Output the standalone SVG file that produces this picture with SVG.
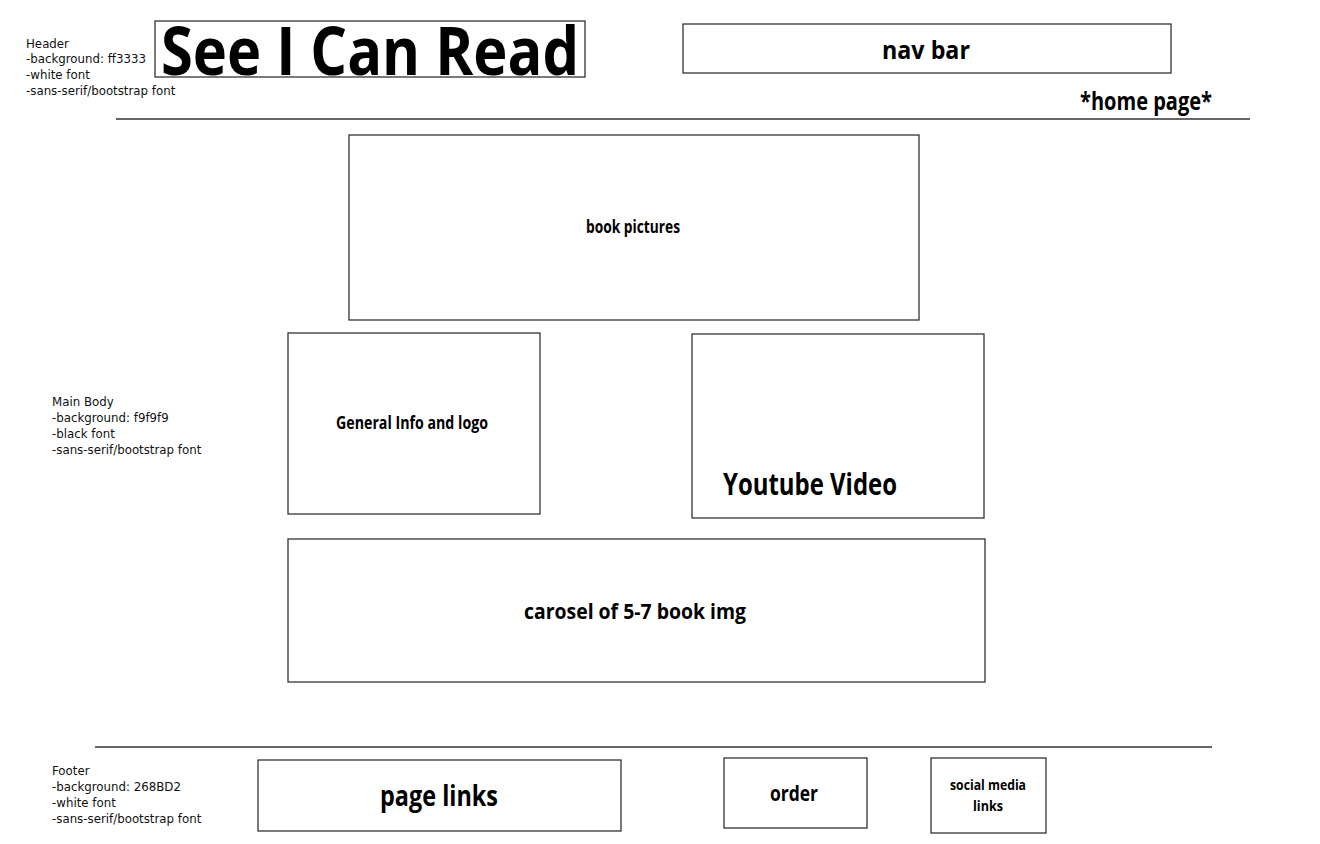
<svg xmlns="http://www.w3.org/2000/svg" width="1320" height="844" viewBox="0 0 1320 844">
<style>
.box{fill:#fff;stroke:#333;stroke-width:1.3}
.note{font-family:"DejaVu Sans",sans-serif;font-size:11.8px;fill:#111}
.lbl{font-family:"Open Sans","Liberation Sans",sans-serif;font-weight:bold;fill:#000;text-anchor:middle}
.rule{stroke:#333;stroke-width:1.3}
</style>
<rect width="1320" height="844" fill="#fff"/>
<g id="header-note">
<text class="note" x="26" y="48">Header</text>
<text class="note" x="26" y="63">-background: ff3333</text>
<text class="note" x="26" y="79">-white font</text>
<text class="note" x="26" y="95">-sans-serif/bootstrap font</text>
</g>
<g id="title">
<rect class="box" x="155" y="21" width="430" height="56"/>
<text class="lbl" x="370" y="75" font-size="66" textLength="418" lengthAdjust="spacingAndGlyphs">See I Can Read</text>
</g>
<g id="navbar">
<rect class="box" x="683" y="24" width="488" height="49"/>
<text class="lbl" x="926" y="59" font-size="25" textLength="88" lengthAdjust="spacingAndGlyphs">nav bar</text>
</g>
<g id="homepage">
<text class="lbl" x="1146" y="110" font-size="25" textLength="132" lengthAdjust="spacingAndGlyphs">*home page*</text>
</g>
<g id="rules">
<line class="rule" x1="116" y1="119" x2="1250" y2="119"/>
<line class="rule" x1="95" y1="747" x2="1212" y2="747"/>
</g>
<g id="book-pictures">
<rect class="box" x="349" y="135" width="570" height="185"/>
<text class="lbl" x="633" y="233" font-size="17" textLength="94" lengthAdjust="spacingAndGlyphs">book pictures</text>
</g>
<g id="main-note">
<text class="note" x="52" y="406">Main Body</text>
<text class="note" x="52" y="422">-background: f9f9f9</text>
<text class="note" x="52" y="438">-black font</text>
<text class="note" x="52" y="454">-sans-serif/bootstrap font</text>
</g>
<g id="general-info">
<rect class="box" x="288" y="333" width="252" height="181"/>
<text class="lbl" x="412" y="429" font-size="17" textLength="152" lengthAdjust="spacingAndGlyphs">General Info and logo</text>
</g>
<g id="youtube">
<rect class="box" x="692" y="334" width="292" height="184"/>
<text class="lbl" x="810" y="495" font-size="30" textLength="174" lengthAdjust="spacingAndGlyphs">Youtube Video</text>
</g>
<g id="carousel">
<rect class="box" x="288" y="539" width="697" height="143"/>
<text class="lbl" x="635" y="619" font-size="22" textLength="222" lengthAdjust="spacingAndGlyphs">carosel of 5-7 book img</text>
</g>
<g id="footer-note">
<text class="note" x="52" y="775">Footer</text>
<text class="note" x="52" y="791">-background: 268BD2</text>
<text class="note" x="52" y="807">-white font</text>
<text class="note" x="52" y="823">-sans-serif/bootstrap font</text>
</g>
<g id="page-links">
<rect class="box" x="258" y="760" width="363" height="71"/>
<text class="lbl" x="439" y="806" font-size="29" textLength="118" lengthAdjust="spacingAndGlyphs">page links</text>
</g>
<g id="order">
<rect class="box" x="724" y="758" width="143" height="70"/>
<text class="lbl" x="794" y="801" font-size="22" textLength="48" lengthAdjust="spacingAndGlyphs">order</text>
</g>
<g id="social">
<rect class="box" x="931" y="758" width="115" height="75"/>
<text class="lbl" x="988" y="790" font-size="15" textLength="76" lengthAdjust="spacingAndGlyphs">social media</text>
<text class="lbl" x="988" y="811" font-size="15" textLength="30" lengthAdjust="spacingAndGlyphs">links</text>
</g>
</svg>
